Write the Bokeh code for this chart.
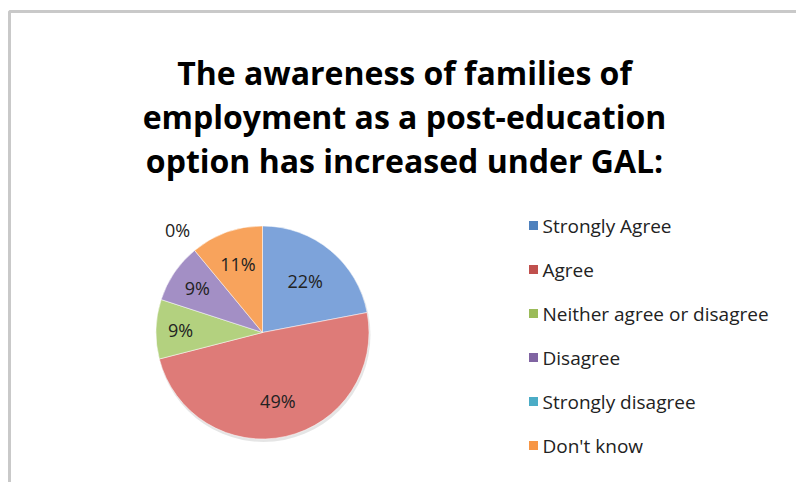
import math
from bokeh.plotting import figure
from bokeh.models import ColumnDataSource
from bokeh.core.properties import value
from bokeh.embed import file_html
from bokeh.resources import INLINE

# ---- data ----
categories = ["Strongly Agree", "Agree", "Neither agree or disagree",
              "Disagree", "Strongly disagree", "Don't know"]
percents = [22, 49, 9, 9, 0, 11]
title_lines = ["The awareness of families of",
               "employment as a post-education",
               "option has increased under GAL:"]

# ---- styles ----
slice_colors = ["#7DA3DA", "#DE7B78", "#B3D17F", "#A38FC5", "#76C6DC", "#F8A35C"]
legend_colors = ["#4F81BD", "#C0504D", "#9BBB59", "#8064A2", "#4BACC6", "#F79646"]
label_r = [0.63, 0.66, 0.77, 0.74, 1.25, 0.68]
FONT = "Open Sans"

W, H = 796, 482
p = figure(width=W, height=H, x_range=(0, W), y_range=(0, H),
           output_backend="svg", toolbar_location=None,
           min_border=0, outline_line_color=None)
p.axis.visible = False
p.grid.visible = False
p.background_fill_color = "white"
p.border_fill_color = "white"

# frame of the chart area (decoration)
p.line([9, 9, W], [0, H - 11, H - 11], line_color="#c9c9c9", line_width=3)

# ---- pie ----
cx, cy, R = 262, 150, 106.5
total = float(sum(percents))
starts, ends, mids = [], [], []
acc = 0.0
for v in percents:
    a0 = math.pi / 2 - 2 * math.pi * acc / total
    acc += v
    a1 = math.pi / 2 - 2 * math.pi * acc / total
    starts.append(a0); ends.append(a1); mids.append((a0 + a1) / 2)

# soft shadow
p.circle(x=[cx + 1], y=[cy - 2.5], radius=R + 0.5, fill_color="#000000",
         fill_alpha=0.10, line_color=None)

keep = [i for i, v in enumerate(percents) if v > 0]
src = ColumnDataSource(dict(
    start=[starts[i] for i in keep], end=[ends[i] for i in keep],
    color=[slice_colors[i] for i in keep]))
p.wedge(x=cx, y=cy, radius=R, start_angle="start", end_angle="end",
        direction="clock", fill_color="color", line_color="white",
        line_width=0.5, source=src)

lab = ColumnDataSource(dict(
    x=[cx + label_r[i] * R * math.cos(mids[i]) for i in range(len(percents))],
    y=[cy + label_r[i] * R * math.sin(mids[i]) for i in range(len(percents))],
    t=["%d%%" % v for v in percents]))
p.text(x="x", y="y", text="t", source=lab, text_align="center",
       text_baseline="middle", text_font=value(FONT), text_font_size="18px",
       text_color="#222222")

# ---- title ----
p.text(x=[404] * 3, y=[H - 72, H - 116, H - 160], text=title_lines,
       text_align="center", text_baseline="alphabetic", text_font=value(FONT),
       text_font_style="bold", text_font_size="32px", text_color="#000000")

# ---- legend ----
ly = [H - 225 - 44 * i for i in range(len(categories))]
p.scatter(x=[533] * len(categories), y=ly, marker="square", size=9,
          fill_color=legend_colors, line_color=None)
p.text(x=[542] * len(categories), y=ly, text=categories, text_align="left",
       text_baseline="middle", text_font=value(FONT), text_font_size="19px",
       text_color="#222222")

open("out.html", "w").write(file_html(p, INLINE))
